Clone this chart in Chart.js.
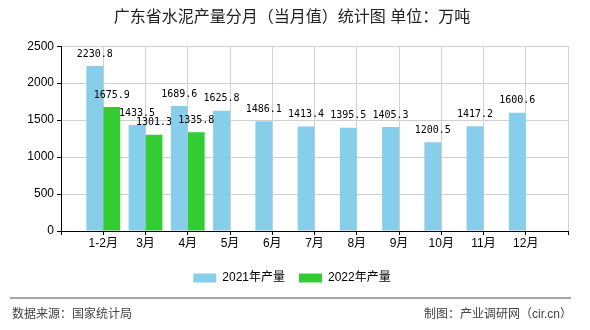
<!DOCTYPE html>
<html>
<head>
<meta charset="utf-8">
<script src="https://cdn.jsdelivr.net/npm/chart.js@4.4.1/dist/chart.umd.min.js"></script>
<style>
  html, body { margin: 0; padding: 0; background: #fff; }
  #wrap { width: 590px; height: 330px; }
</style>
</head>
<body>
<div id="wrap"><canvas id="cementChart" width="590" height="330"></canvas></div>
<script>
const months = ['1-2月', '3月', '4月', '5月', '6月', '7月', '8月', '9月', '10月', '11月', '12月'];
const output2021 = [2230.8, 1433.5, 1689.6, 1625.8, 1486.1, 1413.4, 1395.5, 1405.3, 1200.5, 1417.2, 1600.6];
const output2022 = [1675.9, 1301.3, 1335.8];
const yTicks = [0, 500, 1000, 1500, 2000, 2500];

const cjk = '"Liberation Sans", "Noto Sans CJK SC", sans-serif';

// empty slot on each side, like the original axis
const labels = [''].concat(months, ['']);
const pad = (arr) => {
  const out = [null];
  for (let i = 0; i < months.length; i++) out.push(i < arr.length ? arr[i] : null);
  out.push(null);
  return out;
};

const valueLabels = {
  id: 'valueLabels',
  afterDatasetsDraw(chart) {
    const c = chart.ctx;
    c.save();
    c.font = '10px "DejaVu Sans Mono", monospace';
    c.fillStyle = '#000';
    c.textAlign = 'center';
    c.textBaseline = 'middle';
    chart.data.datasets.forEach((ds, i) => {
      chart.getDatasetMeta(i).data.forEach((bar, j) => {
        const v = ds.data[j];
        if (v == null) return;
        c.fillText(v.toFixed(1), bar.x, bar.y - 12);
      });
    });
    c.restore();
  }
};

const footer = {
  id: 'footer',
  afterDraw(chart) {
    const c = chart.ctx;
    c.save();
    c.strokeStyle = '#888';
    c.lineWidth = 1.5;
    c.beginPath();
    c.moveTo(10, 298);
    c.lineTo(571, 298);
    c.stroke();
    c.font = '12px ' + cjk;
    c.fillStyle = '#444';
    c.textBaseline = 'middle';
    c.textAlign = 'left';
    c.fillText('数据来源：国家统计局', 12, 315);
    c.textAlign = 'right';
    c.fillText('制图：产业调研网（cir.cn）', 572, 315);
    c.restore();
  }
};

new Chart(document.getElementById('cementChart'), {
  type: 'bar',
  data: {
    labels: labels,
    datasets: [
      {
        label: '2021年产量',
        data: pad(output2021),
        backgroundColor: '#87CEEB'
      },
      {
        label: '2022年产量',
        data: pad(output2022),
        backgroundColor: '#32CD32'
      }
    ]
  },
  options: {
    responsive: false,
    animation: false,
    layout: { padding: { left: 16, right: 22, top: 0, bottom: 36 } },
    datasets: { bar: { categoryPercentage: 0.8, barPercentage: 1 } },
    plugins: {
      title: {
        display: true,
        text: '广东省水泥产量分月（当月值）统计图 单位：万吨',
        color: '#222',
        font: { family: cjk, size: 16, weight: 'normal' },
        padding: { top: 8, bottom: 19 }
      },
      legend: {
        position: 'bottom',
        labels: {
          boxWidth: 23,
          boxHeight: 9,
          padding: 14,
          color: '#000',
          font: { family: cjk, size: 12 }
        }
      },
      tooltip: { enabled: false }
    },
    scales: {
      x: {
        offset: false,
        afterFit(scale) { scale.height = 27; },
        grid: { color: '#d0d0d0', offset: false, tickColor: '#000', tickLength: 4 },
        border: { color: '#000', width: 1 },
        ticks: { color: '#000', font: { family: cjk, size: 12 }, maxRotation: 0, autoSkip: false, padding: 1 }
      },
      y: {
        min: 0,
        max: 2500,
        afterFit(scale) { scale.width = 45; },
        afterBuildTicks(scale) { scale.ticks = yTicks.map(v => ({ value: v })); },
        grid: { color: '#d0d0d0', tickColor: '#000', tickLength: 4 },
        border: { color: '#000', width: 1 },
        ticks: { color: '#000', font: { family: cjk, size: 12 }, padding: 3, callback: (v) => String(v) }
      }
    }
  },
  plugins: [valueLabels, footer]
});
</script>
</body>
</html>
